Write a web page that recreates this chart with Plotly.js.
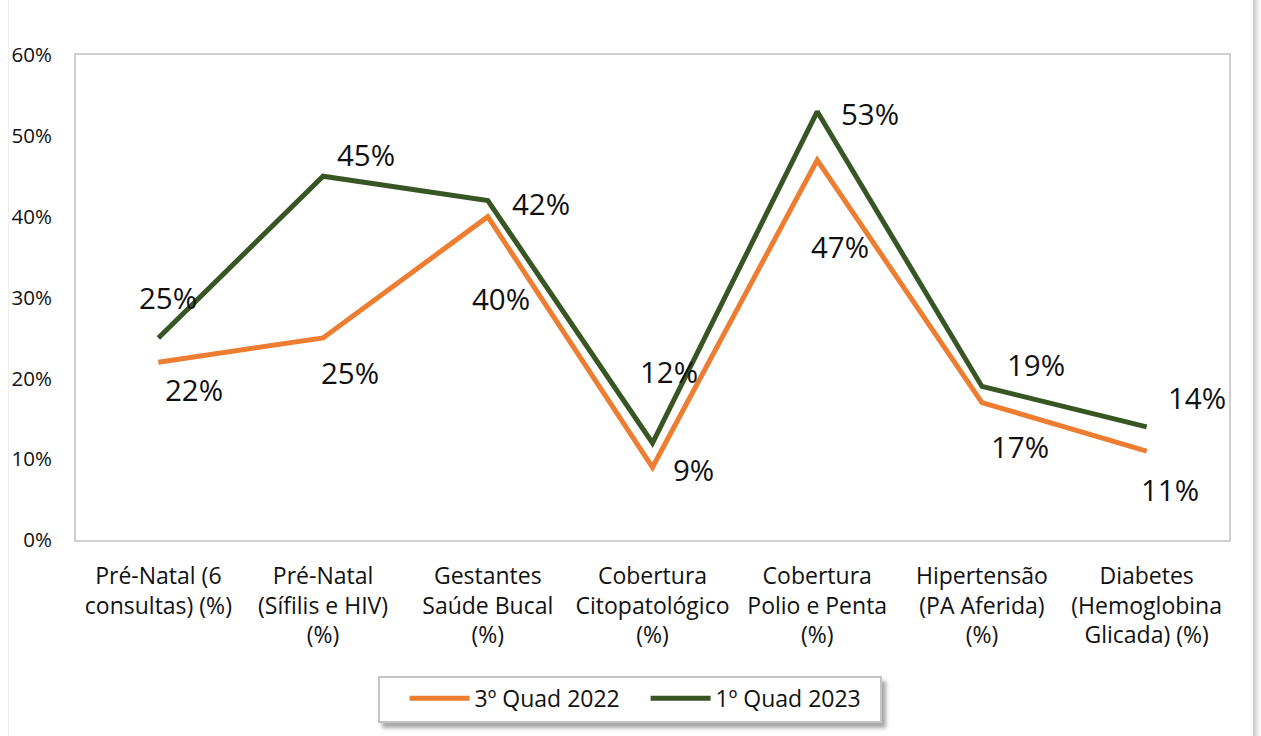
<!DOCTYPE html>
<html>
<head>
<meta charset="utf-8">
<script src="https://cdn.plot.ly/plotly-3.0.1.min.js"></script>
<style>
html,body{margin:0;padding:0;background:#fff;overflow:hidden;}
#wrap{position:relative;width:1261px;height:736px;}
#edgeL{position:absolute;left:8px;top:0;width:1px;height:736px;background:#eeeeee;}
#edgeR{position:absolute;left:1253px;top:0;width:8px;height:736px;background:linear-gradient(to right,#c8c8c8,#e6e6e6,#ffffff);}
#legbox{position:absolute;left:378px;top:676px;width:500px;height:43px;background:#fff;border:2px solid #c4c4c4;box-shadow:4px 5px 4px #a8a8a8;}
#chart{position:absolute;left:0;top:0;width:1261px;height:736px;}
</style>
</head>
<body>
<div id="wrap">
<div id="edgeL"></div>
<div id="edgeR"></div>
<div id="legbox"></div>
<div id="chart"></div>
</div>
<script>
const categories = [
  "Pré-Natal (6<br>consultas) (%)",
  "Pré-Natal<br>(Sífilis e HIV)<br>(%)",
  "Gestantes<br>Saúde Bucal<br>(%)",
  "Cobertura<br>Citopatológico<br>(%)",
  "Cobertura<br>Polio e Penta<br>(%)",
  "Hipertensão<br>(PA Aferida)<br>(%)",
  "Diabetes<br>(Hemoglobina<br>Glicada) (%)"
];
const series1Name = "3º Quad 2022";
const series1 = [22, 25, 40, 9, 47, 17, 11];
const series2Name = "1º Quad 2023";
const series2 = [25, 45, 42, 12, 53, 19, 14];
const yTicks = [0, 10, 20, 30, 40, 50, 60];

// label offsets in pixels (dx right, dy down)
const offs1 = [[36,27],[27,35],[13,82],[41,2],[23,86],[38,44],[23,38]];
const offs2 = [[10,-40],[43,-22],[53,3],[16,-72],[53,2],[54,-22],[50,-29]];

const orange = "#ED7D31";
const green = "#375623";
const font = "'Open Sans', 'Noto Sans', sans-serif";

const traces = [
  {x: categories, y: series1, name: series1Name, type: "scatter", mode: "lines",
   line: {color: orange, width: 5}, hoverinfo: "none"},
  {x: categories, y: series2, name: series2Name, type: "scatter", mode: "lines",
   line: {color: green, width: 5}, hoverinfo: "none"}
];

const annotations = [];
series1.forEach((v, i) => annotations.push({
  x: categories[i], y: v, xref: "x", yref: "y", text: v + "%", showarrow: false,
  xshift: offs1[i][0], yshift: -offs1[i][1], font: {family: font, size: 29.5, color: "#111"}
}));
series2.forEach((v, i) => annotations.push({
  x: categories[i], y: v, xref: "x", yref: "y", text: v + "%", showarrow: false,
  xshift: offs2[i][0], yshift: -offs2[i][1], font: {family: font, size: 29.5, color: "#111"}
}));

const layout = {
  width: 1261, height: 736,
  margin: {l: 76, r: 32, t: 55, b: 196},
  paper_bgcolor: "rgba(0,0,0,0)",
  plot_bgcolor: "#fff",
  font: {family: font, color: "#111"},
  showlegend: true,
  legend: {
    orientation: "h", x: 0.285, xanchor: "left", y: -0.282, yanchor: "top",
    bgcolor: "rgba(0,0,0,0)", borderwidth: 0,
    font: {family: font, size: 23, color: "#111"},
    itemwidth: 60, entrywidth: 166, tracegroupgap: 0
  },
  xaxis: {
    type: "category", range: [-0.5, 6.5], fixedrange: true,
    showgrid: false, zeroline: false,
    showline: true, mirror: true, linecolor: "#d0d0d0", linewidth: 2,
    ticks: "outside", ticklen: 14, tickcolor: "rgba(0,0,0,0)",
    tickfont: {family: font, size: 23, color: "#111"}
  },
  yaxis: {
    range: [0, 60], tickvals: yTicks, ticktext: yTicks.map(v => v + "%"),
    showgrid: false, zeroline: false, fixedrange: true,
    showline: true, mirror: true, linecolor: "#d0d0d0", linewidth: 2,
    ticks: "outside", ticklen: 18, tickcolor: "rgba(0,0,0,0)",
    tickfont: {family: font, size: 20.5, color: "#111"}
  },
  annotations: annotations
};

Plotly.newPlot("chart", traces, layout, {displayModeBar: false, staticPlot: true});
</script>
</body>
</html>
